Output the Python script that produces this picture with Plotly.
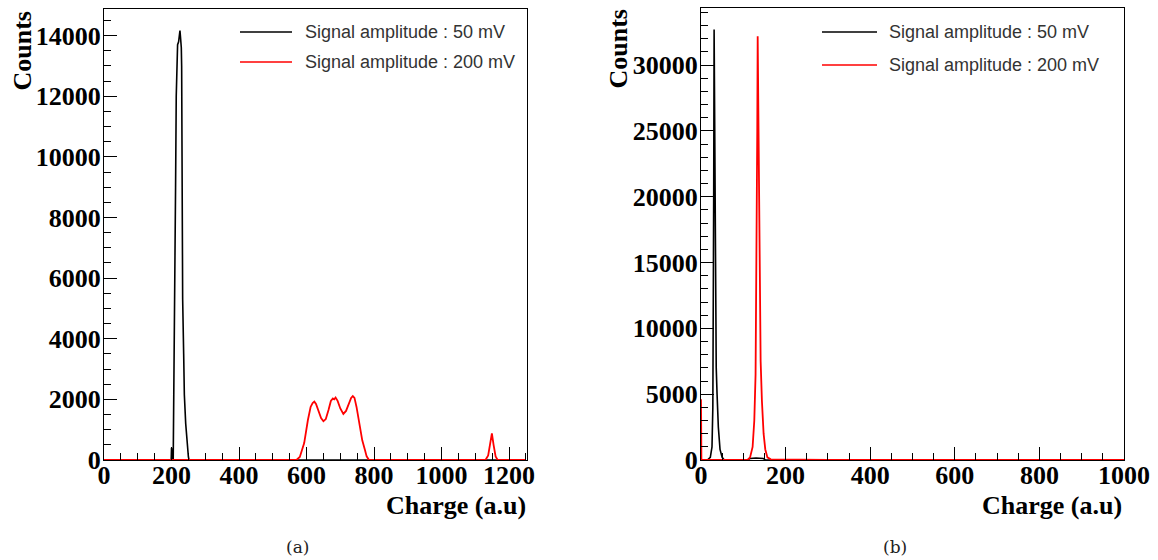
import plotly.graph_objects as go
from plotly.subplots import make_subplots

# (a) charge spectra
a_charge_50 = [0, 195, 199, 200, 201, 203, 205, 207, 210, 212, 214, 216, 218, 221, 223, 225,
               227, 229, 230, 231, 232, 233, 236, 238, 242, 246, 250, 252, 1250]
a_counts_50 = [0, 0, 0, 400, 0, 0, 0, 2000, 5300, 9000, 12000, 13200, 13700, 13800, 14000, 14170,
               13900, 13600, 13000, 10000, 7500, 5300, 3500, 2150, 1200, 500, 100, 0, 0]

a_charge_200 = [0, 570, 580, 593, 604, 612, 618, 623, 628, 635, 643, 650, 657, 665, 672, 678,
                682, 686, 692, 700, 709, 717, 725, 732, 737, 742, 748, 753, 758, 765, 773, 778,
                785, 1130, 1138, 1144, 1149, 1154, 1160, 1166, 1250]
a_counts_200 = [0, 0, 100, 560, 1320, 1750, 1880, 1925, 1850, 1600, 1380, 1280, 1350, 1650, 1950, 2030,
                2000, 2060, 1950, 1700, 1520, 1620, 1850, 2050, 2110, 2050, 1750, 1400, 1100, 650, 330, 120,
                0, 0, 150, 550, 880, 500, 120, 0, 0]

# (b)
b_charge_50 = [0, 15, 22, 26, 28, 29, 30, 31, 32, 33, 34, 36, 38, 41, 45, 50, 55, 110, 116, 130, 147, 152, 1000]
b_counts_50 = [0, 0, 200, 1000, 4000, 9000, 20000, 32700, 26000, 18000, 12000, 7000, 5000, 2500, 800, 200, 0,
               0, 120, 150, 120, 0, 0]

b_charge_200 = [0, 1, 110, 116, 122, 126, 129, 131, 133, 134, 135, 137, 139, 141, 144, 148, 152, 157, 165,
                250, 300, 1000]
b_counts_200 = [4620, 0, 0, 200, 1000, 3000, 6500, 13000, 25000, 32200, 29000, 20000, 12000, 7500, 4500,
                2000, 800, 200, 50, 30, 0, 0]

labels = ["Signal amplitude : 50 mV", "Signal amplitude : 200 mV"]
colors = ["#000000", "#ff0000"]

W, H = 1158, 560


def px(x):
    return x / W


def py(y):
    return 1 - y / H


fig = make_subplots(rows=1, cols=2)

fig.add_trace(go.Scatter(x=a_charge_50, y=a_counts_50, mode="lines", name=labels[0],
                         line=dict(color=colors[0], width=1.6)), row=1, col=1)
fig.add_trace(go.Scatter(x=a_charge_200, y=a_counts_200, mode="lines", name=labels[1],
                         line=dict(color=colors[1], width=1.8)), row=1, col=1)
fig.add_trace(go.Scatter(x=b_charge_50, y=b_counts_50, mode="lines", name=labels[0],
                         line=dict(color=colors[0], width=1.6)), row=1, col=2)
fig.add_trace(go.Scatter(x=b_charge_200, y=b_counts_200, mode="lines", name=labels[1],
                         line=dict(color=colors[1], width=1.8)), row=1, col=2)

tickfont = dict(family="Liberation Serif", size=26, color="black", weight="bold")
common = dict(showgrid=False, zeroline=False, showline=True, linecolor="black", linewidth=1.2,
              mirror=True, ticks="inside", tickcolor="black", tickfont=tickfont,
              tickformat="d", automargin=False)
xminor = dict(dtick=50, ticklen=7, ticks="inside", tickcolor="black")

fig.update_xaxes(domain=[px(104), px(527)], range=[0, 1253], dtick=200, ticklen=13,
                 minor=xminor, ticklabelstandoff=-8, **common, row=1, col=1)
fig.update_yaxes(domain=[py(460), py(9)], range=[0, 14880], dtick=2000, ticklen=13,
                 minor=dict(dtick=500, ticklen=7, ticks="inside", tickcolor="black"),
                 ticklabelstandoff=-3, **common, row=1, col=1)
fig.update_xaxes(domain=[px(701), px(1124)], range=[0, 1000], dtick=200, ticklen=13,
                 minor=xminor, ticklabelstandoff=-8, **common, row=1, col=2)
fig.update_yaxes(domain=[py(460), py(8)], range=[0, 34340], dtick=5000, ticklen=13,
                 minor=dict(dtick=1000, ticklen=7, ticks="inside", tickcolor="black"),
                 ticklabelstandoff=-3, **common, row=1, col=2)

title_font = dict(family="Liberation Serif", size=26, color="black", weight="bold")
ann = []
for cx, top in [(22, 10), (618, 8)]:
    ann.append(dict(x=px(cx), y=py(top), xref="paper", yref="paper", text="Counts",
                    textangle=-90, xanchor="center", yanchor="top", showarrow=False, font=title_font))
for rx in [528, 1124]:
    ann.append(dict(x=px(rx), y=py(505), xref="paper", yref="paper", text="Charge (a.u)",
                    xanchor="right", yanchor="middle", showarrow=False, font=title_font))
for cx, t in [(297, "(a)"), (895, "(b)")]:
    ann.append(dict(x=px(cx), y=py(547), xref="paper", yref="paper", text=t,
                    xanchor="center", yanchor="middle", showarrow=False,
                    font=dict(family="DejaVu Serif", size=17, color="#222222")))

# hand-drawn legends (ROOT style)
shapes = []
for x0, x1, tx, ys in [(240, 292, 303, [32, 62]), (822, 877, 887, [32, 65])]:
    for i, yy in enumerate(ys):
        shapes.append(dict(type="line", xref="paper", yref="paper", x0=px(x0), x1=px(x1),
                           y0=py(yy), y1=py(yy), line=dict(color=colors[i], width=1.6)))
        ann.append(dict(x=px(tx), y=py(yy), xref="paper", yref="paper", text=labels[i],
                        xanchor="left", yanchor="middle", showarrow=False,
                        font=dict(family="Liberation Sans", size=18, color="#333333")))

fig.update_layout(
    width=W, height=H, margin=dict(l=0, r=0, t=0, b=0),
    paper_bgcolor="white", plot_bgcolor="white", showlegend=False,
    annotations=ann, shapes=shapes,
)

# drop the default body margin so the figure sits at the page corner
fig.write_html("out.html", config={"displayModeBar": False},
               post_script="document.body.style.margin='0';")
